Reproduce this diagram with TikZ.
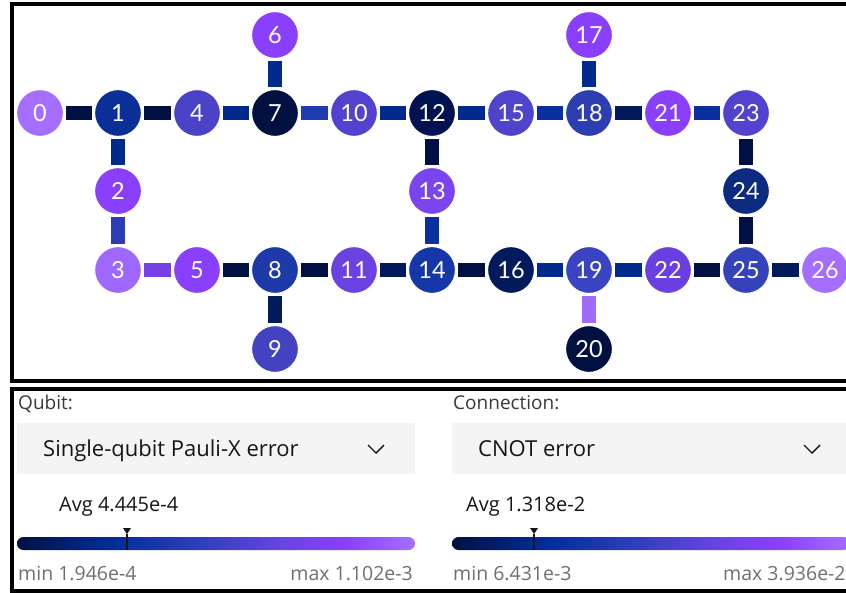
\documentclass[tikz,border=0pt]{standalone}
\usepackage{fontspec}
\newfontfamily\lato{Lato}
\newfontfamily\uifont{Open Sans}
\definecolor{c0}{HTML}{001141}
\definecolor{c1}{HTML}{002D9C}
\definecolor{c2}{HTML}{3440BE}
\definecolor{c3}{HTML}{6A42E2}
\definecolor{c4}{HTML}{8A3FFC}
\definecolor{c5}{HTML}{A56EFF}
\definecolor{txtdark}{HTML}{161616}
\definecolor{txtmid}{HTML}{393939}
\definecolor{txtgray}{HTML}{6F6F6F}
\definecolor{boxgray}{HTML}{F4F4F4}
% node colours
\definecolor{n0}{HTML}{A56EFF}
\definecolor{n1}{HTML}{0A2F96}
\definecolor{n2}{HTML}{8A3FFC}
\definecolor{n3}{HTML}{9E68FF}
\definecolor{n4}{HTML}{4A43C8}
\definecolor{n5}{HTML}{8A3FFC}
\definecolor{n6}{HTML}{8A3FFC}
\definecolor{n7}{HTML}{001141}
\definecolor{n8}{HTML}{1E3AA8}
\definecolor{n9}{HTML}{4343C2}
\definecolor{n10}{HTML}{5143D0}
\definecolor{n11}{HTML}{6A42E0}
\definecolor{n12}{HTML}{021250}
\definecolor{n13}{HTML}{7A45EE}
\definecolor{n14}{HTML}{1537A8}
\definecolor{n15}{HTML}{4F45CC}
\definecolor{n16}{HTML}{001A5C}
\definecolor{n17}{HTML}{8A3FFC}
\definecolor{n18}{HTML}{2D3FB0}
\definecolor{n19}{HTML}{3A44C0}
\definecolor{n20}{HTML}{001141}
\definecolor{n21}{HTML}{8A3FFC}
\definecolor{n22}{HTML}{6A3FE0}
\definecolor{n23}{HTML}{5143D0}
\definecolor{n24}{HTML}{0C2A80}
\definecolor{n25}{HTML}{3543BB}
\definecolor{n26}{HTML}{A56EFF}
% edge colours
\definecolor{eDark}{HTML}{001141}
\definecolor{eNavy}{HTML}{001A5C}
\definecolor{eBlueA}{HTML}{002A8C}
\definecolor{eBlueB}{HTML}{0A30A0}
\definecolor{eBlueC}{HTML}{1F3CB0}
\definecolor{eBlueD}{HTML}{2A3DB5}
\definecolor{eViolet}{HTML}{7540E6}
\definecolor{eLight}{HTML}{A06CFF}
\pgfdeclarehorizontalshading{errmap}{100bp}{color(0bp)=(c0); color(25bp)=(c0); color(37bp)=(c1); color(49bp)=(c2); color(58bp)=(c3); color(66bp)=(c4); color(75bp)=(c5); color(100bp)=(c5)}
\tikzset{
  qubit/.style={circle, minimum size=47, inner sep=0, outer sep=0, draw=white, line width=1.2, text=white, font=\lato\fontsize{23.5}{23.5}\selectfont},
  link/.style={line width=13.5, shorten >=2.5, shorten <=2.5},
  frame/.style={draw=black, line width=4},
  lbl/.style={anchor=base west, inner sep=0, font=\uifont\fontsize{19}{19}\selectfont, text=txtmid},
  ddtext/.style={anchor=base west, inner sep=0, font=\uifont\fontsize{22}{22}\selectfont, text=txtdark},
  avgtext/.style={anchor=base west, inner sep=0, font=\uifont\fontsize{20}{20}\selectfont, text=txtdark},
  rangetext/.style={inner sep=0, font=\uifont\fontsize{19.5}{19.5}\selectfont, text=txtgray},
  chev/.style={draw=txtdark, line width=1.4},
  marktri/.style={fill=txtdark},
  markline/.style={draw=txtdark, line width=2.2},
  ddbox/.style={fill=boxgray}
}
\begin{document}
\begin{tikzpicture}[x=1pt, y=-1pt]
\useasboundingbox (0,0) rectangle (846,592);
\clip (0,0) rectangle (846,592);
\fill[white] (0,0) rectangle (846,592);
% frames
\draw[frame] (860,4) -- (12,4) -- (12,380.5) -- (860,380.5);
\draw[frame] (860,388.5) -- (12,388.5) -- (12,591) -- (860,591);
% qubits
\node[qubit, fill=n0] (q0) at (40,113) {0};
\node[qubit, fill=n1] (q1) at (118,113) {1};
\node[qubit, fill=n4] (q4) at (197,113) {4};
\node[qubit, fill=n7] (q7) at (275,113) {7};
\node[qubit, fill=n10] (q10) at (354,113) {10};
\node[qubit, fill=n12] (q12) at (432,113) {12};
\node[qubit, fill=n15] (q15) at (511,113) {15};
\node[qubit, fill=n18] (q18) at (589,113) {18};
\node[qubit, fill=n21] (q21) at (668,113) {21};
\node[qubit, fill=n23] (q23) at (746,113) {23};
\node[qubit, fill=n6] (q6) at (275,35) {6};
\node[qubit, fill=n17] (q17) at (589,35) {17};
\node[qubit, fill=n2] (q2) at (118,191) {2};
\node[qubit, fill=n13] (q13) at (432,191) {13};
\node[qubit, fill=n24] (q24) at (746,191) {24};
\node[qubit, fill=n3] (q3) at (118,270) {3};
\node[qubit, fill=n5] (q5) at (197,270) {5};
\node[qubit, fill=n8] (q8) at (275,270) {8};
\node[qubit, fill=n11] (q11) at (354,270) {11};
\node[qubit, fill=n14] (q14) at (432,270) {14};
\node[qubit, fill=n16] (q16) at (511,270) {16};
\node[qubit, fill=n19] (q19) at (589,270) {19};
\node[qubit, fill=n22] (q22) at (668,270) {22};
\node[qubit, fill=n25] (q25) at (746,270) {25};
\node[qubit, fill=n26] (q26) at (825,270) {26};
\node[qubit, fill=n9] (q9) at (275,349) {9};
\node[qubit, fill=n20] (q20) at (589,349) {20};
% connections
\draw[link, eDark] (q0) -- (q1);
\draw[link, eDark] (q1) -- (q4);
\draw[link, eBlueA] (q4) -- (q7);
\draw[link, eBlueA] (q7) -- (q6);
\draw[link, eBlueC] (q7) -- (q10);
\draw[link, eBlueA] (q10) -- (q12);
\draw[link, eBlueA] (q12) -- (q15);
\draw[link, eBlueB] (q15) -- (q18);
\draw[link, eBlueA] (q18) -- (q17);
\draw[link, eNavy] (q18) -- (q21);
\draw[link, eBlueB] (q21) -- (q23);
\draw[link, eDark] (q23) -- (q24);
\draw[link, eBlueA] (q1) -- (q2);
\draw[link, eBlueD] (q2) -- (q3);
\draw[link, eViolet] (q3) -- (q5);
\draw[link, eDark] (q5) -- (q8);
\draw[link, eNavy] (q8) -- (q9);
\draw[link, eDark] (q8) -- (q11);
\draw[link, eNavy] (q11) -- (q14);
\draw[link, eDark] (q12) -- (q13);
\draw[link, eBlueB] (q13) -- (q14);
\draw[link, eDark] (q14) -- (q16);
\draw[link, eBlueA] (q16) -- (q19);
\draw[link, eBlueA] (q19) -- (q22);
\draw[link, eDark] (q22) -- (q25);
\draw[link, eDark] (q24) -- (q25);
\draw[link, eNavy] (q25) -- (q26);
\draw[link, eLight] (q19) -- (q20);
% ---- legend: qubit ----
\node[lbl] (qlab) at (18,409) {Qubit:};
\fill[ddbox] (17,423) rectangle (415,474);
\node[ddtext] (qdd) at (43,456) {Single-qubit Pauli-X error};
\coordinate (qchev) at (376,449);
\draw[chev] ([shift={(-8,-4)}]qchev) -- ([shift={(0,4)}]qchev) -- ([shift={(8,-4)}]qchev);
\node[avgtext] (qavg) at (59,511) {Avg 4.445e-4};
\shade[shading=errmap, rounded corners=6.5] (17,537) rectangle (415,550);
\coordinate (qmark) at (127,534);
\fill[marktri] ([shift={(-4,-6)}]qmark) -- ([shift={(4,-6)}]qmark) -- (qmark) -- cycle;
\draw[markline] (qmark) -- ++(0,16);
\node[rangetext, anchor=base west] (qmin) at (18,580) {min 1.946e-4};
\node[rangetext, anchor=base east] (qmax) at (413,580) {max 1.102e-3};
% ---- legend: connection ----
\node[lbl] (clab) at (453,409) {Connection:};
\fill[ddbox] (452,423) rectangle (860,474);
\node[ddtext] (cdd) at (478,456) {CNOT error};
\coordinate (cchev) at (812,449);
\draw[chev] ([shift={(-8,-4)}]cchev) -- ([shift={(0,4)}]cchev) -- ([shift={(8,-4)}]cchev);
\node[avgtext] (cavg) at (466,511) {Avg 1.318e-2};
\shade[shading=errmap, rounded corners=6.5] (452,537) rectangle (850,550);
\coordinate (cmark) at (534,534);
\fill[marktri] ([shift={(-4,-6)}]cmark) -- ([shift={(4,-6)}]cmark) -- (cmark) -- cycle;
\draw[markline] (cmark) -- ++(0,16);
\node[rangetext, anchor=base west] (cmin) at (453,580) {min 6.431e-3};
\node[rangetext, anchor=base west] (cmax) at (723,580) {max 3.936e-2};
\end{tikzpicture}
\end{document}
